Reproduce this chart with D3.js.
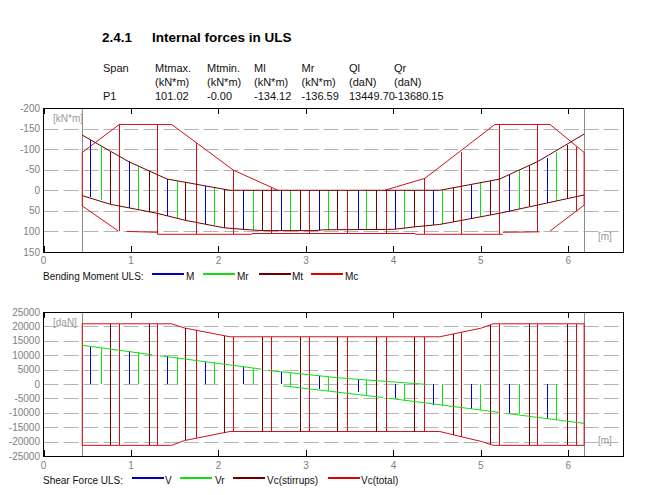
<!DOCTYPE html>
<html>
<head>
<meta charset="utf-8">
<script src="https://cdn.jsdelivr.net/npm/d3@7"></script>
<style>
  body { margin: 0; background: #fff; }
  text { font-family: Arial, "Liberation Sans", sans-serif; }
</style>
</head>
<body>
<div id="chart"></div>
<script>
// ---- data ----
const tableHead  = ["Span", "Mtmax.", "Mtmin.", "Ml", "Mr", "Ql", "Qr"];
const tableUnits = ["", "(kN*m)", "(kN*m)", "(kN*m)", "(kN*m)", "(daN)", "(daN)"];
const tableRow   = ["P1", "101.02", "-0.00", "-134.12", "-136.59", "13449.70", "-13680.15"];

const xTicks = [0, 1, 2, 3, 4, 5, 6];
const mTicks = [-200, -150, -100, -50, 0, 50, 100, 150];
const vTicks = [25000, 20000, 15000, 10000, 5000, 0, -5000, -10000, -15000, -20000, -25000];
const supports = [0.443, 6.18];

// section positions (m) of the hatch lines
const secM  = [0.535, 0.973, 1.415, 1.846, 2.276, 2.71, 3.15, 3.59, 4.02, 4.45, 4.89, 5.32, 5.75];
const secMr = [0.653, 1.084, 1.522, 1.95, 2.39, 2.82, 3.25, 3.69, 4.12, 4.56, 4.99, 5.43, 5.86];
const secMt = [0.764, 1.202, 1.621, 2.06, 2.50, 2.93, 3.36, 3.80, 4.24, 4.68, 5.10, 5.55, 5.98];
const secMc = [0.866, 1.30, 1.74, 2.17, 2.60, 3.04, 3.47, 3.91, 4.35, 4.77, 5.21, 5.64, 6.09];

// bending moments (kN*m), hatch ends
const mTop  = [-122, -71, -27.5, -10.5, 0, 0, 0, 0, 0, 0, -13, -40, -79];
const mBot  = [15.5, 43, 62, 81, 95, 98, 97, 95, 94, 84, 70, 50, 31];
const mrTop = [-106, -60, -23.4, -6.4, 0, 0, 0, 0, 0, -1, -17, -49, -94];
const mrBot = [23.6, 47, 67, 85, 96.6, 98, 96, 95, 93, 81, 65, 45, 25];
const mtTop = [-94, -48, -19, -2.5, 0, 0, 0, 0, 0, -5, -22, -60, -110];
const mtBot = [34, 52, 73, 91, 98, 98, 96, 95, 89, 77, 60, 39, 21];
const mcTop = [-160, -160, -114, -49, -7, 0, 0, 0, -31, -94, -160, -160, -106];
const mcBot = [99, 107, 107, 107, 105, 105, 105, 105, 107, 107, 107, 102, 50];

// Mt envelope lines
const mtUpperLine = [[0.443, -134.1], [0.97, -70], [1.41, -27.5], [2.13, 0], [4.53, 0], [5.21, -27], [5.65, -70], [6.18, -136.6]];
const mtLowerLine = [[0.443, 13], [0.764, 34], [1.3, 56], [1.621, 73], [2.06, 91], [2.28, 95], [2.5, 98], [3.1, 98],
                     [3.2, 96], [4.0, 95], [4.24, 89], [4.53, 83], [5.21, 56], [6.18, 11.4]];

// Mc envelope pieces
const mcUpperL = [[0.855, 99], [0.443, 38], [0.443, -92], [0.866, -160], [1.465, -160], [2.17, -49], [2.68, 0]];
const mcUpperR = [[3.90, 0], [4.36, -29], [5.16, -160], [5.79, -160], [6.18, -92], [6.18, 36], [5.79, 99]];
const mcLowerParts = [
  [[0.95, 100], [1.30, 102]],
  [[1.30, 107], [2.38, 107]],
  [[2.38, 105], [4.25, 105]],
  [[4.25, 107], [5.25, 107]],
  [[5.25, 102], [5.67, 101]]
];

// shear forces (daN), hatch ends
const vTop  = [12700, 11300, 9810, 7550, 5750, 4130, 2610, 1700, 0, 0, 0, 0, 0];
const vBot  = [0, 0, 0, 0, 0, 0, -1780, -2950, -4900, -7240, -8600, -10130, -12100];
const vrTop = [12490, 10960, 9220, 7490, 5520, 3790, 2400, 1220, 0, 0, 0, 0, 0];
const vrBot = [0, 0, 0, 0, 0, -860, -2260, -3760, -5740, -7580, -9100, -10480, -12450];
const vcsTop = [20900, 20900, 19400, 16800, 16400, 16400, 16400, 16400, 16400, 17350, 20450, 20900, 20900];
const vcsBot = [-21300, -21300, -19600, -17000, -16500, -16500, -16500, -16500, -16500, -17600, -20800, -21300, -21300];
const vctTop = [20900, 20900, 18650, 16400, 16400, 16400, 16400, 16400, 16400, 17950, 20900, 20900, 20900];
const vctBot = [-21300, -21300, -18850, -16500, -16500, -16500, -16500, -16500, -16500, -18250, -21300, -21300, -21300];

const vctUpperLine = [[0.443, 20900], [1.465, 20900], [1.61, 19450], [2.13, 16400], [4.53, 16400], [5.01, 19450], [5.14, 20900], [6.18, 20900]];
const vctLowerLine = [[0.443, -21300], [1.465, -21300], [1.61, -19650], [2.13, -16500], [4.53, -16500], [5.01, -20000], [5.14, -21300], [6.18, -21300]];

// Vr line, drawn in pieces
const vrLines = [
  [[0.443, 13450], [1.24, 10160]],
  [[1.33, 9810], [2.49, 5170]],
  [[2.57, 4700], [3.39, 2100], [4.38, -150]],
  [[2.74, -630], [3.88, -4680]],
  [[3.95, -4950], [5.22, -9900]],
  [[5.29, -10200], [6.18, -13680]]
];

// ---- colours ----
const cBlue = "#0000c8", cGreen = "#10e010", cMaroon = "#700000", cRed = "#d01018";
const cGrid = "#b4b4b4", cGrey = "#808080";

const W = 668, H = 495;
const svg = d3.select("#chart").append("svg").attr("width", W).attr("height", H);
svg.append("rect").attr("width", W).attr("height", H).attr("fill", "#fff");

const px = v => Math.round(v) + 0.5;

// header
svg.append("text").attr("x", 102).attr("y", 41.5).attr("font-size", 13.5).attr("font-weight", "bold").text("2.4.1");
svg.append("text").attr("x", 152).attr("y", 41.5).attr("font-size", 13.5).attr("font-weight", "bold").text("Internal forces in ULS");

const colX = [103, 155, 207, 254, 301.5, 349, 394];
[[tableHead, 72], [tableUnits, 86], [tableRow, 99.5]].forEach(([row, y]) => {
  svg.append("g").selectAll("text").data(row).join("text")
    .attr("x", (d, i) => colX[i]).attr("y", y)
    .attr("font-size", 11).attr("fill", "#111")
    .text(d => d);
});

// scales
const x = d3.scaleLinear().domain([0, 6.63]).range([43.5, 623.5]);
const yM = d3.scaleLinear().domain([-200, 150]).range([108, 252]);
const yV = d3.scaleLinear().domain([25000, -25000]).range([312, 456]);

function drawBase(yScale, ticks, unitText, xLabelY) {
  const g = svg.append("g");
  const [top, bot] = yScale.range();
  const L = x.range()[0], R = x.range()[1];

  g.selectAll("line.grid").data(ticks.slice(1, -1)).join("line")
    .attr("x1", L).attr("x2", R)
    .attr("y1", d => px(yScale(d))).attr("y2", d => px(yScale(d)))
    .attr("stroke", cGrid).attr("stroke-dasharray", "15,5");

  g.selectAll("line.sup").data(supports).join("line")
    .attr("x1", d => px(x(d))).attr("x2", d => px(x(d)))
    .attr("y1", top).attr("y2", bot)
    .attr("stroke", "#8c8c8c");

  g.selectAll("text.yl").data(ticks).join("text")
    .attr("x", 40).attr("y", d => yScale(d))
    .attr("text-anchor", "end").attr("dominant-baseline", "central")
    .attr("font-size", 10).attr("fill", cGrey)
    .text(d => d);

  g.selectAll("text.xl").data(xTicks).join("text")
    .attr("x", d => x(d)).attr("y", xLabelY)
    .attr("text-anchor", "middle").attr("dominant-baseline", "central")
    .attr("font-size", 10).attr("fill", cGrey)
    .text(d => d);

  g.append("text").attr("x", 53).attr("y", top + 14)
    .attr("font-size", 10).attr("fill", "#999").text(unitText);
  g.append("text").attr("x", 598).attr("y", bot - 12)
    .attr("font-size", 10).attr("fill", "#999").text("[m]");
  return g;
}

function drawFrame(yScale) {
  const [top, bot] = yScale.range();
  const g = svg.append("g");
  g.append("rect").attr("x", x.range()[0]).attr("y", top + 0.5)
    .attr("width", x.range()[1] - x.range()[0]).attr("height", bot - top)
    .attr("fill", "none").attr("stroke", "#000");
  g.selectAll("line.tt").data(xTicks).join("line")
    .attr("x1", d => px(x(d))).attr("x2", d => px(x(d)))
    .attr("y1", top).attr("y2", top + 6).attr("stroke", "#000");
  g.selectAll("line.tb").data(xTicks).join("line")
    .attr("x1", d => px(x(d))).attr("x2", d => px(x(d)))
    .attr("y1", bot).attr("y2", bot - 6).attr("stroke", "#000");
}

function hatch(g, yScale, xs, tops, bots, color) {
  g.append("g").selectAll("line").data(xs).join("line")
    .attr("x1", d => px(x(d))).attr("x2", d => px(x(d)))
    .attr("y1", (d, i) => yScale(tops[i])).attr("y2", (d, i) => yScale(bots[i]))
    .attr("stroke", color).attr("stroke-width", 1).attr("shape-rendering", "crispEdges");
}

function polyline(g, yScale, pts, color) {
  const line = d3.line().x(d => x(d[0])).y(d => yScale(d[1]));
  g.append("path").attr("d", line(pts))
    .attr("fill", "none").attr("stroke", color).attr("stroke-width", 1);
}

// ---- bending moment chart ----
const gM = drawBase(yM, mTicks, "[kN*m]", 260);
[mcUpperL, mcUpperR].concat(mcLowerParts).forEach(p => polyline(gM, yM, p, cRed));
hatch(gM, yM, secMc, mcTop, mcBot, cRed);
hatch(gM, yM, secM, mTop, mBot, cBlue);
hatch(gM, yM, secMr, mrTop, mrBot, cGreen);
hatch(gM, yM, secMt, mtTop, mtBot, cMaroon);
polyline(gM, yM, mtUpperLine, cMaroon);
polyline(gM, yM, mtLowerLine, cMaroon);
drawFrame(yM);

// ---- shear force chart ----
const gV = drawBase(yV, vTicks, "[daN]", 465);
polyline(gV, yV, vctUpperLine.concat(vctLowerLine.slice().reverse()).concat([vctUpperLine[0]]), cRed);
hatch(gV, yV, secMc, vctTop, vctBot, cRed);
hatch(gV, yV, secMt, vcsTop, vcsBot, cMaroon);
hatch(gV, yV, secM, vTop, vBot, cBlue);
hatch(gV, yV, secMr, vrTop, vrBot, cGreen);
vrLines.forEach(p => polyline(gV, yV, p, cGreen));
drawFrame(yV);

// ---- legends ----
const legend1 = [
  { name: "M",  color: cBlue,   x0: 152, tx: 186 },
  { name: "Mr", color: cGreen,  x0: 203, tx: 237 },
  { name: "Mt", color: cMaroon, x0: 259, tx: 292 },
  { name: "Mc", color: "#e00000", x0: 311, tx: 345 }
];
const legend2 = [
  { name: "V",            color: cBlue,   x0: 132, tx: 165 },
  { name: "Vr",           color: cGreen,  x0: 180, tx: 215 },
  { name: "Vc(stirrups)", color: cMaroon, x0: 233, tx: 267 },
  { name: "Vc(total)",    color: "#e00000", x0: 328, tx: 361 }
];

function drawLegend(title, items, y) {
  const g = svg.append("g");
  g.append("text").attr("x", 43).attr("y", y + 3.5).attr("font-size", 10).attr("fill", "#111").text(title);
  g.selectAll("line").data(items).join("line")
    .attr("x1", d => d.x0).attr("x2", d => d.x0 + 32)
    .attr("y1", y - 2).attr("y2", y - 2)
    .attr("stroke", d => d.color).attr("stroke-width", 2);
  g.selectAll("text.li").data(items).join("text")
    .attr("x", d => d.tx).attr("y", y + 3.5)
    .attr("font-size", 10).attr("fill", "#111")
    .text(d => d.name);
}
drawLegend("Bending Moment ULS:", legend1, 276);
drawLegend("Shear Force ULS:", legend2, 480);
</script>
</body>
</html>
